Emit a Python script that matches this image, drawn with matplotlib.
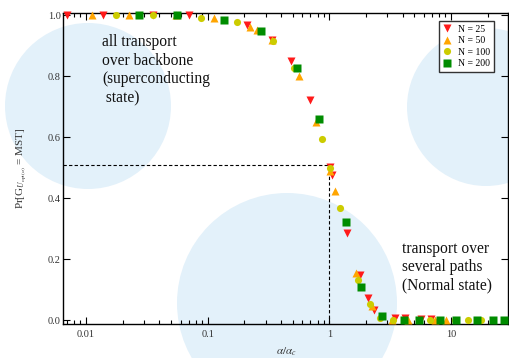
import matplotlib
matplotlib.use("Agg")
import matplotlib.pyplot as plt
from matplotlib.patches import Ellipse
from matplotlib.ticker import LogLocator, NullFormatter

plt.rcParams['font.family'] = ['Liberation Serif', 'DejaVu Serif']
plt.rcParams['mathtext.fontset'] = 'stix'

# ---- data ----
x_n25 = [0.0070, 0.0138, 0.0357, 0.0706, 0.212, 0.340, 0.487, 0.698, 1.01, 1.05,
         1.40, 1.79, 2.08, 2.34, 3.49, 4.22, 5.71, 6.90]
y_n25 = [1.0, 1.0, 1.0, 1.0, 0.967, 0.918, 0.849, 0.721, 0.502, 0.475,
         0.285, 0.148, 0.072, 0.033, 0.008, 0.008, 0.005, 0.005]

x_n50 = [0.01125, 0.0226, 0.0552, 0.113, 0.224, 0.256, 0.340, 0.566, 0.782, 1.01,
         1.11, 1.66, 2.26, 3.30, 4.47, 7.45, 9.17]
y_n50 = [1.0, 1.0, 1.0, 0.99, 0.96, 0.951, 0.918, 0.80, 0.649, 0.49,
         0.423, 0.154, 0.046, 0.0, 0.0, 0.0, 0.0]

x_n100 = [0.0177, 0.0357, 0.0885, 0.175, 0.346, 0.515, 0.871, 1.01, 1.22, 1.72,
          2.16, 2.62, 3.35, 6.77, 10.7, 13.9, 17.8]
y_n100 = [1.0, 1.0, 0.99, 0.977, 0.915, 0.826, 0.593, 0.498, 0.367, 0.131,
          0.052, 0.007, 0.0, 0.0, 0.0, 0.0, 0.0]

x_n200 = [0.0274, 0.0562, 0.137, 0.276, 0.546, 0.828, 1.38, 1.83, 2.73, 4.14,
          5.50, 8.19, 10.9, 16.5, 22.3, 27.5]
y_n200 = [1.0, 1.0, 0.984, 0.948, 0.826, 0.659, 0.321, 0.108, 0.013, 0.0,
          0.0, 0.0, 0.0, 0.0, 0.0, 0.0]

labels = ['N = 25', 'N = 50', 'N = 100', 'N = 200']
crit_y = 0.508

W, H = 509, 358
fig = plt.figure(figsize=(W / 100, H / 100), dpi=100)
fig.patch.set_facecolor('white')

# background circles (pixel centre, radius)
circ_col = '#e3f1fa'
for cx, cy, r in [(88, 106, 83), (287, 303, 110), (486, 107, 79)]:
    e = Ellipse((cx / W, 1 - cy / H), 2 * r / W, 2 * r / H,
                transform=fig.transFigure, facecolor=circ_col,
                edgecolor='none', zorder=-10)
    fig.patches.append(e)

ax_l, ax_r, ax_t, ax_b = 63.3, 508.3, 12.7, 324.0
ax = fig.add_axes([ax_l / W, 1 - ax_b / H, (ax_r - ax_l) / W, (ax_b - ax_t) / H])
ax.set_facecolor('none')

ax.set_xscale('log')
ax.set_xlim(0.0065, 29.6)
ax.set_ylim(-0.013, 1.008)

# dashed guide lines
ax.plot([0.0065, 1.0], [crit_y, crit_y], ls=(0, (3, 2)), color='black', lw=0.8, zorder=2)
ax.plot([1.0, 1.0], [-0.013, crit_y], ls=(0, (3, 2)), color='black', lw=0.8, zorder=2)

ms = 5.4
ax.plot(x_n25, y_n25, 'v', color='#ff1a1a', ms=ms, mec='none', label=labels[0], zorder=3, clip_on=False)
ax.plot(x_n50, y_n50, '^', color='#ffa500', ms=ms, mec='none', label=labels[1], zorder=3, clip_on=False)
ax.plot(x_n100, y_n100, 'o', color='#cccc00', ms=ms * 0.95, mec='none', label=labels[2], zorder=3, clip_on=False)
ax.plot(x_n200, y_n200, 's', color='#008c00', ms=ms * 0.95, mec='none', label=labels[3], zorder=3, clip_on=False)

ax.set_yticks([0.0, 0.2, 0.4, 0.6, 0.8, 1.0])
ax.set_yticklabels(['0.0', '0.2', '0.4', '0.6', '0.8', '1.0'])
ax.set_xticks([0.01, 0.1, 1, 10])
ax.set_xticklabels(['0.01', '0.1', '1', '10'])
ax.xaxis.set_minor_locator(LogLocator(base=10, subs=range(2, 10)))
ax.xaxis.set_minor_formatter(NullFormatter())

ax.tick_params(axis='both', which='major', direction='in', length=5, width=0.8,
               top=True, right=True, labelsize=7.5, labelcolor='#333333', pad=3)
ax.tick_params(axis='x', which='minor', direction='in', length=3, width=0.8, top=True)
ax.tick_params(axis='x', which='major', pad=4)
ax.tick_params(axis='y', which='major', pad=2)
for s in ax.spines.values():
    s.set_linewidth(1.0)
    s.set_color('black')

aw, ah = ax_r - ax_l, ax_b - ax_t
leg = ax.legend(loc='upper right', bbox_to_anchor=((494 - ax_l) / aw, (ax_b - 21) / ah),
                fontsize=7, frameon=True, fancybox=False, framealpha=1,
                handlelength=1.0, handletextpad=0.6, borderpad=0.4,
                labelspacing=0.25, borderaxespad=0.0, markerscale=1.0)
leg.get_frame().set_edgecolor('#333333')
leg.get_frame().set_linewidth(1.0)

# annotation texts
fig.text(102 / W, 1 - 34 / H, "all transport\nover backbone\n(superconducting\n state)",
         fontsize=11.2, va='top', ha='left', linespacing=1.22, color='#111111')
fig.text(402 / W, 1 - 241 / H, "transport over\nseveral paths\n(Normal state)",
         fontsize=11.2, va='top', ha='left', linespacing=1.2, color='#111111')

# axis labels
fig.text(22 / W, 1 - 168 / H, r"Pr[G$_{U_{\mathrm{opt}(\alpha)}}$ = MST]",
         rotation=90, fontsize=8, va='center', ha='center', color='#333333')
fig.text(286 / W, 1 - 352 / H, r"$\alpha/\alpha_c$", fontsize=8,
         va='center', ha='center', color='#333333')

fig.savefig('out.png', dpi=100)
